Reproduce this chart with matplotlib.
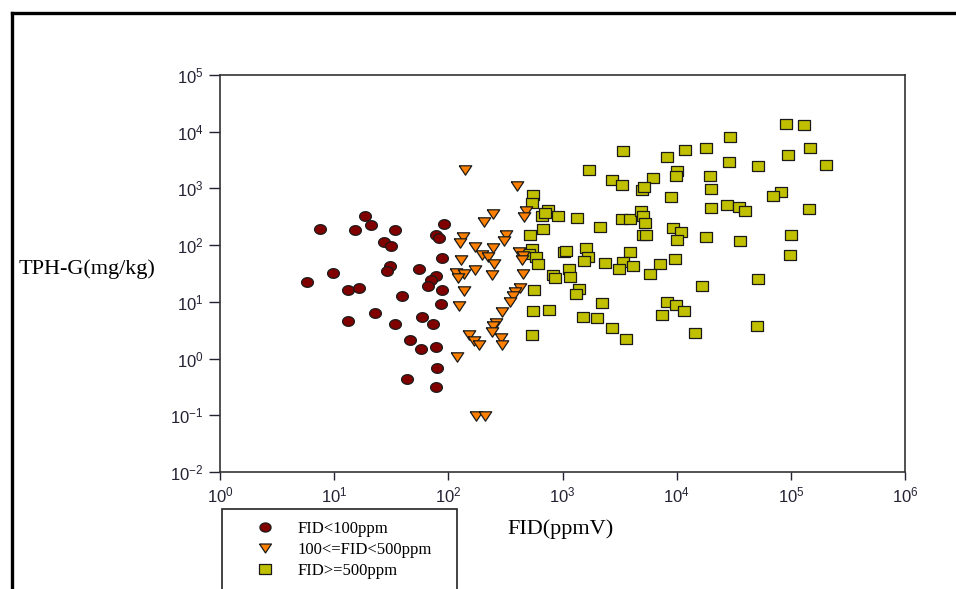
import numpy as np
import matplotlib
matplotlib.use('Agg')
import matplotlib.pyplot as plt
from matplotlib.path import Path
from matplotlib.lines import Line2D
from matplotlib.patches import Rectangle
from matplotlib.ticker import LogLocator, LogFormatterMathtext, NullLocator

plt.rcParams['font.family'] = ['Liberation Sans', 'DejaVu Sans']
plt.rcParams['mathtext.default'] = 'regular'

# FID < 100 ppm
low_fid = [7.5, 5.8, 9.7, 13.2, 16.6, 13.1, 18.6, 15.2, 21.1, 34.3, 27.1, 31.4,
           30.6, 29.0, 22.6, 39.0, 33.9, 46.1, 57.2, 43.4, 55.6, 91.5, 78.3, 82.2,
           88.5, 78.3, 70.8, 65.9, 87.9, 86.1, 58.4, 72.9, 77.4, 80.0, 77.4]
low_tph = [196, 22.8, 32.4, 16.0, 17.7, 4.68, 333, 188, 224, 183, 114, 98.4,
           42.5, 35.2, 6.4, 12.6, 4.14, 2.14, 1.50, 0.44, 38.7, 240, 154, 131,
           60.4, 28.7, 24.4, 19.4, 16.3, 9.33, 5.35, 4.09, 1.61, 0.67, 0.31]

# 100 <= FID < 500 ppm
mid_fid = [139, 399, 246, 205, 478, 459, 319, 305, 134, 126, 170, 247, 198, 222,
           418, 447, 441, 129, 249, 171, 116, 138, 122, 242, 453, 136, 421, 381,
           368, 346, 123, 295, 261, 247, 239, 151, 289, 167, 185, 293, 118, 176, 210]
mid_tph = [2153, 1112, 347, 254, 396, 310, 148, 117, 138, 110, 91.9, 89.6, 66.4, 62.2,
           76.2, 63.7, 54.2, 54.2, 46.8, 36.1, 32.5, 31.5, 26.5, 29.9, 31.2, 15.4, 17.9, 15.2,
           12.9, 9.84, 8.61, 6.75, 4.26, 3.72, 2.96, 2.58, 2.32, 2.02, 1.77, 1.72, 1.05, 0.096, 0.096]

# FID >= 500 ppm
high_fid = [3404, 8260, 11800, 18000, 29200, 28500, 1693, 2710, 3334, 6230, 4990, 5190,
            9980, 9780, 19640, 20050, 8850, 551, 540, 745, 656, 697, 917, 1337,
            2126, 678, 521, 3334, 3870, 4860, 5090, 5300, 9270, 10940, 10100, 5060,
            5370, 20050, 27350, 17910, 543, 508, 581, 609, 1035, 1077, 1614, 1680,
            1540, 2366, 3917, 3404, 3100, 4110, 7170, 9640, 5820, 819, 858, 1130,
            1167, 565, 1393, 1320, 547, 756, 2228, 8260, 9840, 11490, 7380, 16630,
            1500, 1990, 2710, 3570, 14430, 536, 89900, 129200, 146600, 94100, 51100, 202300,
            81700, 69500, 35070, 39550, 142900, 35970, 100700, 98600, 51100, 50100]
high_tph = [4660, 3610, 4720, 5060, 8230, 2980, 2094, 1435, 1157, 1512, 930, 1067,
            2043, 1667, 1667, 984, 700, 780, 557, 425, 329, 365, 333, 303,
            207, 191, 154, 286, 291, 392, 323, 247, 199, 172, 122, 148,
            148, 460, 514, 138, 87.1, 71.1, 62.2, 46.8, 76.2, 80.4, 89.6, 61.2,
            52.9, 48.7, 77.1, 50.8, 38.7, 43.2, 46.8, 57.3, 31.2, 29.5, 26.5, 38.2,
            27.6, 16.3, 16.7, 13.5, 7.02, 7.23, 9.60, 10.1, 8.71, 7.02, 5.80, 18.8,
            5.35, 5.14, 3.42, 2.25, 2.87, 2.62, 13560, 13020, 5060, 3850, 2534, 2640,
            871, 728, 480, 408, 442, 119, 148, 66.4, 25.5, 3.82]

labels = ['FID<100ppm', '100<=FID<500ppm', 'FID>=500ppm']
colors = ['#800000', '#ff8000', '#c0c000']

# slightly wide markers, like the stretched original
t = np.linspace(0, 2 * np.pi, 40)
ellipse = Path(np.column_stack([5.5 * np.cos(t), 4.5 * np.sin(t)]))
tri_down = Path([(-6, 4.5), (6, 4.5), (0, -4.5), (-6, 4.5)])
box = Path([(-5.5, -4.5), (5.5, -4.5), (5.5, 4.5), (-5.5, 4.5), (-5.5, -4.5)])

fig = plt.figure(figsize=(9.56, 5.89), dpi=100)
ax = fig.add_axes([220 / 956, 1 - 472 / 589, 685 / 956, 397 / 589])

style = dict(linestyle='none', markeredgecolor='#1a1a1a', markeredgewidth=0.9)
ax.plot(low_fid, low_tph, marker=ellipse, markersize=8.5, markerfacecolor=colors[0], zorder=3, **style)
ax.plot(high_fid, high_tph, marker=box, markersize=8.5, markerfacecolor=colors[2], zorder=3, **style)
ax.plot(mid_fid, mid_tph, marker=tri_down, markersize=9, markerfacecolor=colors[1], zorder=4, **style)

ax.set_xscale('log')
ax.set_yscale('log')
ax.set_xlim(1, 1e6)
ax.set_ylim(1e-2, 1e5)
ax.xaxis.set_major_locator(LogLocator(base=10, numticks=10))
ax.yaxis.set_major_locator(LogLocator(base=10, numticks=10))
ax.xaxis.set_minor_locator(NullLocator())
ax.yaxis.set_minor_locator(NullLocator())
ax.xaxis.set_major_formatter(LogFormatterMathtext())
ax.yaxis.set_major_formatter(LogFormatterMathtext())
ax.tick_params(axis='x', direction='out', length=6, width=1, pad=4, labelsize=12, colors='#222233')
ax.tick_params(axis='y', direction='out', length=8, width=1, pad=4, labelsize=12, colors='#222233')
for s in ax.spines.values():
    s.set_color('#333333')
    s.set_linewidth(1.2)

serif = ['Liberation Serif', 'DejaVu Serif']
ax.set_xlabel('FID(ppmV)', family=serif, fontsize=16, va='center')
ax.xaxis.set_label_coords((561 - 220) / 685, (472 - 529) / 397)
ax.set_ylabel('TPH-G(mg/kg)', family=serif, fontsize=16, rotation=0, ha='left', va='center')
ax.yaxis.set_label_coords((19 - 220) / 685, (472 - 269) / 397)

# legend, box runs off the bottom of the page
handles = [
    Line2D([], [], marker=ellipse, markersize=8, markerfacecolor=colors[0], **style),
    Line2D([], [], marker=tri_down, markersize=8.6, markerfacecolor=colors[1], **style),
    Line2D([], [], marker=box, markersize=8, markerfacecolor=colors[2], **style),
]
fig.legend(handles, labels, loc='center left', bbox_to_anchor=(248.6 / 956, 1 - 550 / 589),
           frameon=False, borderpad=0, handlelength=1.0, handletextpad=1.42,
           labelspacing=0.3, prop={'family': serif, 'size': 12})
fig.patches.append(Rectangle((222 / 956, -0.05), 235 / 956, 1 - 509 / 589 + 0.05,
                             transform=fig.transFigure, fill=False, edgecolor='#222222', lw=1.2))

# page frame (left and top edges)
fig.add_artist(Line2D([12 / 956, 12 / 956], [0, 1 - 13 / 589], transform=fig.transFigure, color='black', lw=2.4))
fig.add_artist(Line2D([12 / 956, 1], [1 - 13 / 589, 1 - 13 / 589], transform=fig.transFigure, color='black', lw=2.4))

fig.savefig('out.png', dpi=100)
